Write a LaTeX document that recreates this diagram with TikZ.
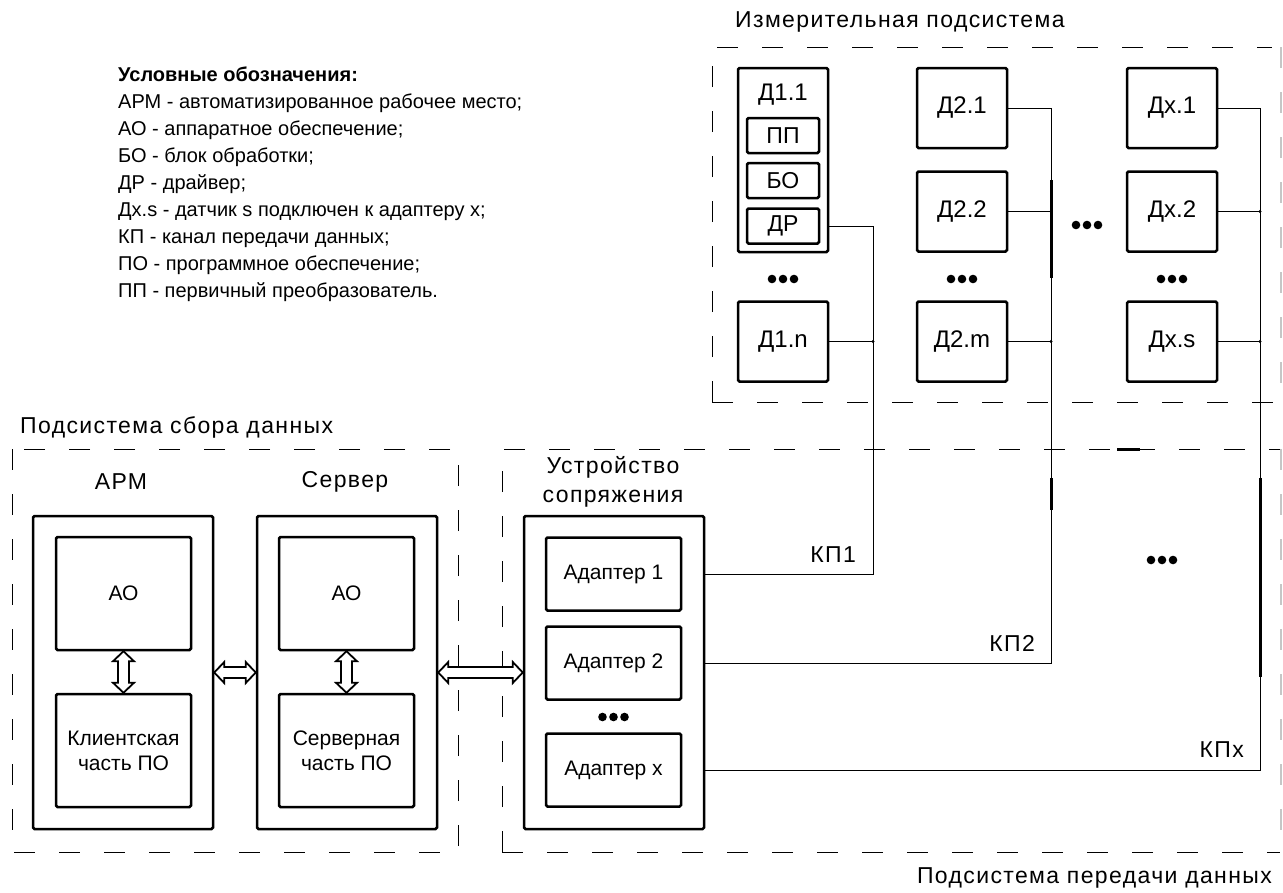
\documentclass[tikz,border=0pt]{standalone}
\usepackage{fontspec}
\setmainfont{Liberation Sans}
\usetikzlibrary{calc,positioning}

\tikzset{
  blk/.style={draw, line width=2.5pt, rounded corners=1.5pt, inner sep=0pt, align=center},
  sensor/.style={blk, minimum width=90pt, minimum height=80pt, font=\fontsize{24}{28}\selectfont},
  host/.style={blk, minimum width=180pt, minimum height=313pt},
  hostpart/.style={blk, minimum width=135pt, minimum height=113pt, font=\fontsize{21}{25}\selectfont},
  adapter/.style={blk, minimum width=135pt, minimum height=73pt, font=\fontsize{21}{25}\selectfont},
  inner/.style={blk, minimum width=72pt, minimum height=35pt, font=\fontsize{23}{26}\selectfont},
  subframe/.style={line width=1pt, dash pattern=on 21pt off 24pt},
  edgeframe/.style={line width=2.5pt, gray!45, dash pattern=on 21pt off 24pt},
  wire/.style={line width=0.9pt},
  busbar/.style={line width=3pt},
  dblarrow/.style={line width=1.8pt, fill=white, line join=miter, to path={
    coordinate (ta) at ($(\tikztostart)!10pt!(\tikztotarget)$)
    coordinate (tb) at ($(\tikztotarget)!10pt!(\tikztostart)$)
    (\tikztostart) -- ($(ta)!10.5pt!90:(\tikztotarget)$) -- ($(ta)!5.5pt!90:(\tikztotarget)$)
    -- ($(tb)!5.5pt!-90:(\tikztostart)$) -- ($(tb)!10.5pt!-90:(\tikztostart)$) -- (\tikztotarget)
    -- ($(tb)!10.5pt!90:(\tikztostart)$) -- ($(tb)!5.5pt!90:(\tikztostart)$)
    -- ($(ta)!5.5pt!-90:(\tikztotarget)$) -- ($(ta)!10.5pt!-90:(\tikztotarget)$) -- cycle}},
  lbl/.style={font=\fontsize{23}{29}\selectfont\addfontfeatures{LetterSpace=6}, inner sep=0pt},
  tridots/.pic={\foreach \dx in {-11,0,11} \fill (\dx pt,0) circle (4.3pt);}
}

\begin{document}
\begin{tikzpicture}[x=1pt, y=-1pt]
  \useasboundingbox (0,0) rectangle (1283,892);

  % legend
  \node[anchor=north west, align=left, inner sep=0pt, font=\fontsize{20}{27}\selectfont] (legend) at (118,67)
    {\textbf{Условные обозначения:}\\
     АРМ - автоматизированное рабочее место;\\
     АО - аппаратное обеспечение;\\
     БО - блок обработки;\\
     ДР - драйвер;\\
     Дх.s - датчик s подключен к адаптеру x;\\
     КП - канал передачи данных;\\
     ПО - программное обеспечение;\\
     ПП - первичный преобразователь.};

  % subsystem frames
  \node[lbl, anchor=west] (meastitle) at (735,22) {Измерительная подсистема};
  \draw[subframe] (712,402) -- (712,47) -- (1272,47);
  \draw[subframe] (712,402) -- (1280,402);
  \draw[edgeframe] (1281,47) -- (1281,402);

  \node[lbl, anchor=west] (colltitle) at (20,427) {Подсистема сбора данных};
  \draw[subframe] (12,449) rectangle (458,852);

  \node[lbl, anchor=east] (transtitle) at (1272,878) {Подсистема передачи данных};
  \draw[subframe] (502,852) -- (502,449) -- (1280,449);
  \draw[subframe] (502,852) -- (1280,852);
  \draw[edgeframe] (1281,449) -- (1281,852);
  \draw[busbar] (1117,449) -- (1140,449);

  % sensors, column 1
  \node[blk, minimum width=90pt, minimum height=184pt] (d11) at (783,160) {};
  \node[inner sep=0pt, font=\fontsize{24}{28}\selectfont] (d11name) at (783,95) {Д1.1};
  \node[inner] (pp) at (783,135.5) {ПП};
  \node[inner] (bo) at (783,180.5) {БО};
  \node[inner] (dr) at (783,226) {ДР};
  \pic at (783,279) {tridots};
  \node[sensor] (d1n) at (783,341.5) {Д1.n};

  % sensors, column 2
  \node[sensor] (d21) at (962,108) {Д2.1};
  \node[sensor] (d22) at (962,211.5) {Д2.2};
  \pic at (962,279) {tridots};
  \node[sensor] (d2m) at (962,341.5) {Д2.m};

  \pic at (1087,225) {tridots};

  % sensors, column 3
  \node[sensor] (dx1) at (1172,108) {Дх.1};
  \node[sensor] (dx2) at (1172,211.5) {Дх.2};
  \pic at (1172,279) {tridots};
  \node[sensor] (dxs) at (1172,341.5) {Дх.s};

  % data collection
  \node[lbl] (armname) at (121,482) {АРМ};
  \node[host] (arm) at (123,672.5) {};
  \node[hostpart] (armao) at (123.5,593.5) {АО};
  \node[hostpart] (armpo) at (123.5,750.5) {Клиентская\\часть ПО};

  \node[lbl] (srvname) at (345,482) {Сервер};
  \node[host] (srv) at (347,672.5) {};
  \node[hostpart] (srvao) at (346.5,593.5) {АО};
  \node[hostpart] (srvpo) at (346.5,750.5) {Серверная\\часть ПО};

  % interface device
  \node[lbl, align=center] (uspname) at (613,482) {Устройство\\сопряжения};
  \node[host] (usp) at (614,672.5) {};
  \node[adapter] (ad1) at (613.5,574) {Адаптер 1};
  \node[adapter] (ad2) at (613.5,663) {Адаптер 2};
  \pic at (613.5,717) {tridots};
  \node[adapter] (adx) at (613.5,770) {Адаптер x};

  % exchange arrows
  \draw[dblarrow] (armao.south) to (armpo.north);
  \draw[dblarrow] (srvao.south) to (srvpo.north);
  \draw[dblarrow] (arm.east) to (srv.west);
  \draw[dblarrow] (srv.east) to (usp.west);

  % channels
  \coordinate (k1) at (873,574);
  \coordinate (k2) at (1051,663);
  \coordinate (k3) at (1260,770);

  \draw[wire] (d11.east |- dr.east) -| (k1) -- (usp.east |- ad1.east);
  \draw[wire] (d1n.east) -- (d1n.east -| k1);

  \draw[wire] (d21.east) -| (k2) -- (usp.east |- ad2.east);
  \draw[wire] (d22.east) -- (d22.east -| k2);
  \draw[wire] (d2m.east) -- (d2m.east -| k2);
  \draw[busbar] (1051,180) -- (1051,278);
  \draw[busbar] (1051,478) -- (1051,510);

  \draw[wire] (dx1.east) -| (k3) -- (usp.east |- adx.east);
  \draw[wire] (dx2.east) -- (dx2.east -| k3);
  \draw[wire] (dxs.east) -- (dxs.east -| k3);
  \draw[busbar] (1260,478) -- (1260,677);

  \foreach \p in {d1n.east -| k1, d22.east -| k2, d2m.east -| k2, dx2.east -| k3, dxs.east -| k3}
    \fill (\p) circle (1.6pt);

  \node[lbl, anchor=east] (kp1) at (856,555) {КП1};
  \node[lbl, anchor=east] (kp2) at (1035,643) {КП2};
  \node[lbl, anchor=east] (kpx) at (1244,750) {КПx};
  \pic at (1162,560) {tridots};
\end{tikzpicture}
\end{document}
